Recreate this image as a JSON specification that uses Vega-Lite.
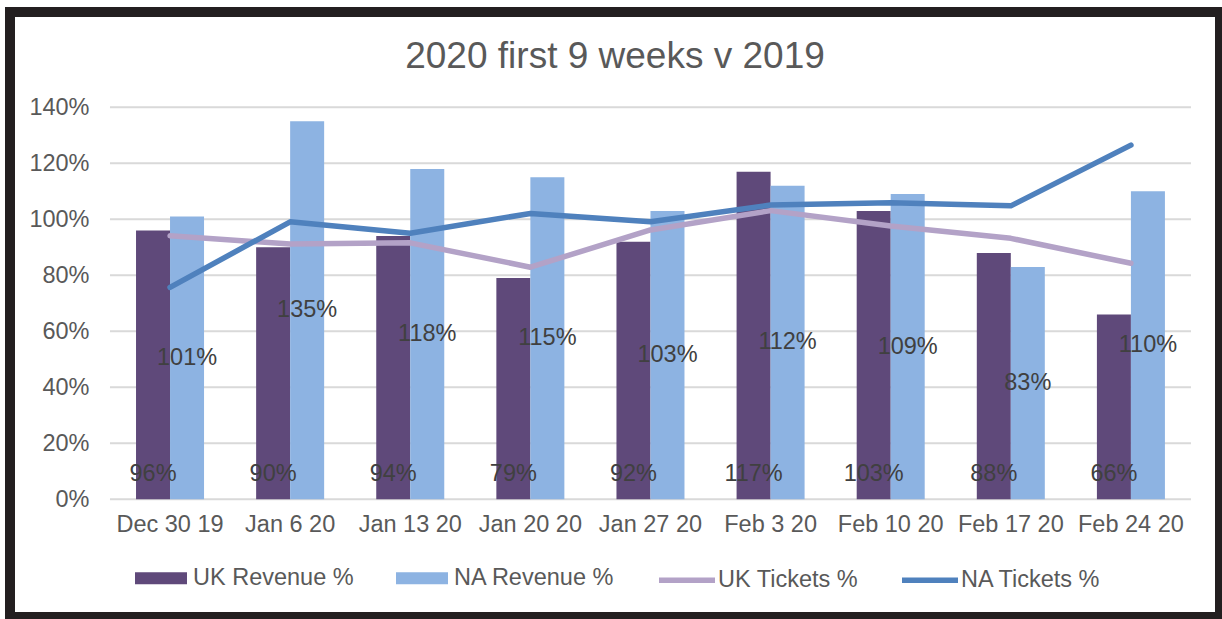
{
  "$schema": "https://vega.github.io/schema/vega-lite/v6.json",
  "width": 1210,
  "height": 605,
  "autosize": {"type": "none"},
  "padding": {"left": 10, "top": 12, "right": 2, "bottom": 2},
  "background": "white",
  "title": {
    "text": "2020 first 9 weeks v 2019",
    "fontSize": 37,
    "fontWeight": "normal",
    "color": "#595959",
    "anchor": "middle",
    "baseline": "middle",
    "offset": -82
  },
  "config": {
    "font": "Liberation Sans",
    "view": {"stroke": "#231f20", "strokeWidth": 10, "fill": "white"}
  },
  "datasets": {
    "main": [
      {"week": "Dec 30 19", "series": "UK Revenue %", "value": 0.96},
      {"week": "Jan 6 20", "series": "UK Revenue %", "value": 0.90},
      {"week": "Jan 13 20", "series": "UK Revenue %", "value": 0.94},
      {"week": "Jan 20 20", "series": "UK Revenue %", "value": 0.79},
      {"week": "Jan 27 20", "series": "UK Revenue %", "value": 0.92},
      {"week": "Feb 3 20", "series": "UK Revenue %", "value": 1.17},
      {"week": "Feb 10 20", "series": "UK Revenue %", "value": 1.03},
      {"week": "Feb 17 20", "series": "UK Revenue %", "value": 0.88},
      {"week": "Feb 24 20", "series": "UK Revenue %", "value": 0.66},
      {"week": "Dec 30 19", "series": "NA Revenue %", "value": 1.01},
      {"week": "Jan 6 20", "series": "NA Revenue %", "value": 1.35},
      {"week": "Jan 13 20", "series": "NA Revenue %", "value": 1.18},
      {"week": "Jan 20 20", "series": "NA Revenue %", "value": 1.15},
      {"week": "Jan 27 20", "series": "NA Revenue %", "value": 1.03},
      {"week": "Feb 3 20", "series": "NA Revenue %", "value": 1.12},
      {"week": "Feb 10 20", "series": "NA Revenue %", "value": 1.09},
      {"week": "Feb 17 20", "series": "NA Revenue %", "value": 0.83},
      {"week": "Feb 24 20", "series": "NA Revenue %", "value": 1.10},
      {"week": "Dec 30 19", "series": "UK Tickets %", "value": 0.941},
      {"week": "Jan 6 20", "series": "UK Tickets %", "value": 0.912},
      {"week": "Jan 13 20", "series": "UK Tickets %", "value": 0.916},
      {"week": "Jan 20 20", "series": "UK Tickets %", "value": 0.829},
      {"week": "Jan 27 20", "series": "UK Tickets %", "value": 0.962},
      {"week": "Feb 3 20", "series": "UK Tickets %", "value": 1.031},
      {"week": "Feb 10 20", "series": "UK Tickets %", "value": 0.976},
      {"week": "Feb 17 20", "series": "UK Tickets %", "value": 0.932},
      {"week": "Feb 24 20", "series": "UK Tickets %", "value": 0.843},
      {"week": "Dec 30 19", "series": "NA Tickets %", "value": 0.757},
      {"week": "Jan 6 20", "series": "NA Tickets %", "value": 0.991},
      {"week": "Jan 13 20", "series": "NA Tickets %", "value": 0.950},
      {"week": "Jan 20 20", "series": "NA Tickets %", "value": 1.021},
      {"week": "Jan 27 20", "series": "NA Tickets %", "value": 0.991},
      {"week": "Feb 3 20", "series": "NA Tickets %", "value": 1.051},
      {"week": "Feb 10 20", "series": "NA Tickets %", "value": 1.059},
      {"week": "Feb 17 20", "series": "NA Tickets %", "value": 1.048},
      {"week": "Feb 24 20", "series": "NA Tickets %", "value": 1.265}
    ],
    "grid": [
      {"g": 0}, {"g": 0.2}, {"g": 0.4}, {"g": 0.6}, {"g": 0.8}, {"g": 1.0}, {"g": 1.2}, {"g": 1.4}
    ]
  },
  "encoding": {
    "x": {
      "field": "week",
      "type": "nominal",
      "scale": {
        "domain": ["Dec 30 19", "Jan 6 20", "Jan 13 20", "Jan 20 20", "Jan 27 20", "Feb 3 20", "Feb 10 20", "Feb 17 20", "Feb 24 20"],
        "paddingInner": 0,
        "paddingOuter": 0.537,
        "align": 0.775
      },
      "axis": {
        "title": null,
        "orient": "bottom",
        "offset": -117.7,
        "domain": false,
        "ticks": false,
        "labelPadding": 13,
        "labelFontSize": 23.5,
        "labelColor": "#595959",
        "labelAngle": 0,
        "labelLimit": 300
      }
    }
  },
  "layer": [
    {
      "layer": [
        {
          "data": {"name": "grid"},
          "mark": {"type": "rule", "stroke": "#d9d9d9", "strokeWidth": 2},
          "encoding": {
            "x": {"datum": "Dec 30 19", "bandPosition": 0},
            "x2": {"datum": "Feb 24 20", "bandPosition": 1},
            "y": {"field": "g", "type": "quantitative"}
          }
        },
        {
          "data": {"name": "main"},
          "transform": [{"filter": "indexof(datum.series, 'Revenue') >= 0"}],
          "mark": {"type": "bar"},
          "encoding": {
            "xOffset": {
              "field": "series",
              "type": "nominal",
              "scale": {"domain": ["UK Revenue %", "NA Revenue %"], "paddingInner": 0, "paddingOuter": 0.766}
            },
            "y": {
              "field": "value",
              "type": "quantitative",
              "scale": {"domain": [-0.4204, 1.7404], "nice": false, "zero": false},
              "axis": {
                "title": null,
                "orient": "left",
                "offset": -100,
                "values": [0, 0.2, 0.4, 0.6, 0.8, 1.0, 1.2, 1.4],
                "format": ".0%",
                "grid": false,
                "domain": false,
                "ticks": false,
                "labelPadding": 21,
                "labelFontSize": 23.5,
                "labelColor": "#595959"
              }
            },
            "y2": {"datum": 0},
            "fill": {
              "field": "series",
              "type": "nominal",
              "scale": {"domain": ["UK Revenue %", "NA Revenue %"], "range": ["#5f497a", "#8db3e2"]},
              "legend": {
                "title": null,
                "orient": "none",
                "legendX": 125,
                "legendY": 540,
                "direction": "horizontal",
                "columns": 2,
                "padding": 0,
                "symbolType": "M-1,-0.23H1V0.23H-1Z",
                "symbolSize": 2704,
                "symbolStrokeWidth": 0,
                "labelFontSize": 23.5,
                "labelColor": "#595959",
                "labelOffset": 6,
                "labelLimit": 300,
                "columnPadding": 42
              }
            }
          }
        },
        {
          "data": {"name": "main"},
          "transform": [{"filter": "indexof(datum.series, 'Tickets') >= 0"}],
          "mark": {"type": "line", "strokeWidth": 5.5, "strokeCap": "round", "strokeJoin": "round"},
          "encoding": {
            "y": {"field": "value", "type": "quantitative"},
            "stroke": {
              "field": "series",
              "type": "nominal",
              "scale": {"domain": ["UK Tickets %", "NA Tickets %"], "range": ["#b3a2c7", "#4f81bd"]},
              "legend": {
                "title": null,
                "orient": "none",
                "legendX": 646,
                "legendY": 537,
                "direction": "horizontal",
                "columns": 2,
                "padding": 0,
                "symbolType": "stroke",
                "symbolSize": 3136,
                "symbolStrokeWidth": 5.5,
                "labelFontSize": 23.5,
                "labelColor": "#595959",
                "labelOffset": 0,
                "labelLimit": 300,
                "columnPadding": 32
              }
            }
          }
        },
        {
          "data": {"name": "main"},
          "transform": [{"filter": "datum.series === 'UK Revenue %'"}],
          "mark": {"type": "text", "fontSize": 23.5, "color": "#404040", "baseline": "middle", "dy": -25},
          "encoding": {
            "xOffset": {"field": "series", "type": "nominal"},
            "y": {"datum": 0},
            "text": {"field": "value", "type": "quantitative", "format": ".0%"}
          }
        }
      ]
    },
    {
      "data": {"name": "main"},
      "transform": [{"filter": "datum.series === 'NA Revenue %'"}],
      "mark": {"type": "text", "fontSize": 23.5, "color": "#404040", "baseline": "middle"},
      "encoding": {
        "xOffset": {"field": "series", "type": "nominal"},
        "y": {
          "field": "value",
          "type": "quantitative",
          "scale": {"domain": [-0.8408, 3.4808], "nice": false, "zero": false},
          "axis": null
        },
        "text": {"field": "value", "type": "quantitative", "format": ".0%"}
      }
    }
  ],
  "resolve": {"scale": {"y": "independent"}}
}
